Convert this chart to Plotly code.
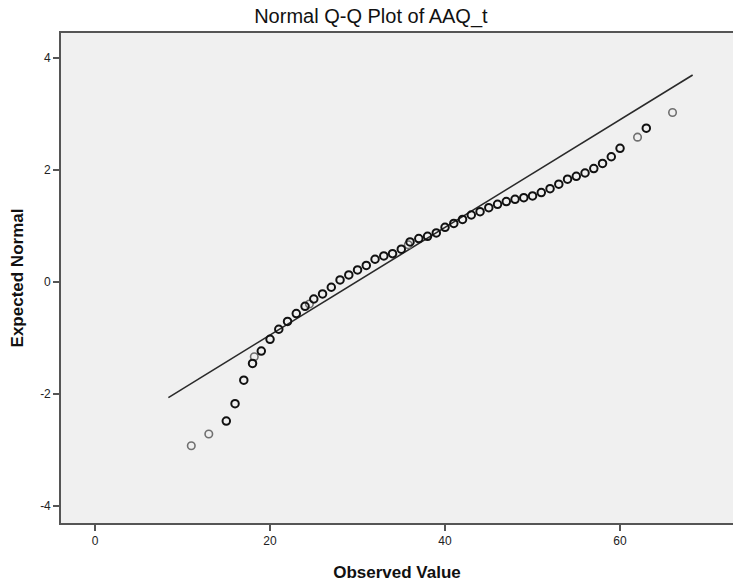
import plotly.graph_objects as go

# Observed values (x) and expected normal values (y) - repeated cases (dark markers)
obs_dark = [15, 16, 17, 18, 19, 20, 21, 22, 23, 24, 25, 26, 27, 28, 29,
            30, 31, 32, 33, 34, 35, 36, 37, 38, 39, 40, 41, 42, 43, 44, 45, 46,
            47, 48, 49, 50, 51, 52, 53, 54, 55, 56, 57, 58, 59, 60, 63]
exp_dark = [-2.49, -2.18, -1.76, -1.46, -1.24, -1.03, -0.85, -0.71,
            -0.57, -0.44, -0.31, -0.22, -0.10, 0.03, 0.12, 0.21, 0.29, 0.40,
            0.46, 0.50, 0.58, 0.71, 0.77, 0.81, 0.87, 0.97, 1.04, 1.11, 1.19,
            1.25, 1.32, 1.38, 1.43, 1.47, 1.50, 1.53, 1.59, 1.66, 1.74, 1.83,
            1.88, 1.94, 2.02, 2.11, 2.23, 2.38, 2.74]
# Single cases (lighter markers)
obs_light = [11, 13, 18.2, 24.5, 35.8, 62, 66]
exp_light = [-2.93, -2.72, -1.34, -0.40, 0.66, 2.58, 3.02]

# Reference line
line_x = [8.38, 68.3]
line_y = [-2.07, 3.69]

x_ticks = [0, 20, 40, 60]
y_ticks = [-4, -2, 0, 2, 4]
y_tick_text = ["-4", "-2", "0", "2", "4"]

fig = go.Figure()
fig.add_trace(go.Scatter(x=line_x, y=line_y, mode="lines",
                         line=dict(color="#2a2a2a", width=1.6),
                         showlegend=False, hoverinfo="skip"))
fig.add_trace(go.Scatter(x=obs_light, y=exp_light, mode="markers",
                         marker=dict(symbol="circle-open", size=7.5,
                                     color="#707070", line=dict(width=1.6)),
                         showlegend=False))
fig.add_trace(go.Scatter(x=obs_dark, y=exp_dark, mode="markers",
                         marker=dict(symbol="circle-open", size=7.5,
                                     color="#111111", line=dict(width=2)),
                         showlegend=False))

font_main = "Liberation Sans, Arial, sans-serif"
fig.update_layout(
    width=733, height=585,
    margin=dict(l=61, r=0, t=33, b=62),
    paper_bgcolor="white", plot_bgcolor="#f0f0f0",
    title=dict(text="Normal Q-Q Plot of AAQ_t", x=0.506, xref="container",
               xanchor="center", y=1 - 16 / 585, yref="container",
               yanchor="middle", font=dict(family=font_main, size=20, color="#111")),
    showlegend=False,
)
fig.update_xaxes(range=[-3.89, 72.91], tickvals=x_ticks, showgrid=False,
                 zeroline=False, showline=True, linecolor="#555", linewidth=1.6,
                 mirror=True, ticks="outside", ticklen=6, tickwidth=1.6,
                 tickcolor="#555",
                 tickfont=dict(family=font_main, size=12, color="#222"),
                 title=dict(text="<b>Observed Value</b>", standoff=19,
                            font=dict(family=font_main, size=17, color="#111")))
fig.update_yaxes(range=[-4.31, 4.44], tickvals=y_ticks, ticktext=y_tick_text,
                 showgrid=False,
                 zeroline=False, showline=True, linecolor="#555", linewidth=1.6,
                 ticks="outside", ticklen=6, tickwidth=1.6, tickcolor="#555",
                 tickfont=dict(family=font_main, size=12, color="#222"),
                 title=dict(text="<b>Expected Normal</b>", standoff=12,
                            font=dict(family=font_main, size=17, color="#111")))

fig.write_html("out.html")
